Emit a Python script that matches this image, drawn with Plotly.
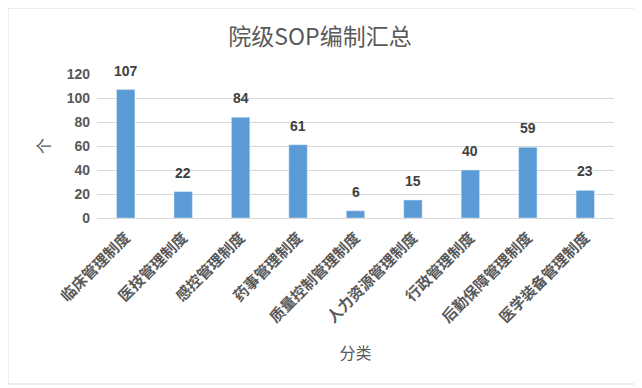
import plotly.graph_objects as go

categories = ["临床管理制度", "医技管理制度", "感控管理制度", "药事管理制度", "质量控制管理制度",
              "人力资源管理制度", "行政管理制度", "后勤保障管理制度", "医学装备管理制度"]
values = [107, 22, 84, 61, 6, 15, 40, 59, 23]
y_ticks = [0, 20, 40, 60, 80, 100, 120]

font_cjk = "Noto Sans CJK SC, Microsoft YaHei, sans-serif"
font_num = "Liberation Sans, Arial, sans-serif"
grey = "#595959"

# page has an 8px body margin; compensate
W, H = 634, 380
L, R, T, B = 89, 28, 66, 170
pw, ph = W - L - R, H - T - B

fig = go.Figure(go.Bar(
    x=categories, y=values,
    marker_color="#5B9BD5",
    cliponaxis=False,
))

for c, v in zip(categories, values):
    fig.add_annotation(x=c, y=v, text=str(v), showarrow=False, yanchor="middle", yshift=19,
                       font=dict(family=font_num, size=14, color="#404040", weight="bold"))

fig.update_layout(
    width=W, height=H,
    margin=dict(l=L, r=R, t=T, b=B),
    paper_bgcolor="white", plot_bgcolor="white",
    bargap=0.68,
    showlegend=False,
    title=dict(text="院级SOP编制汇总", x=312 / W,
               xanchor="center", y=1 - 29 / H, yanchor="middle",
               font=dict(family=font_cjk, size=23, color=grey)),
    xaxis=dict(
        tickangle=-45, automargin=False,
        tickfont=dict(family=font_cjk, size=15, color=grey, weight="bold"),
        ticklabelstandoff=4,
        showline=True, linecolor="#D9D9D9", ticks="",
        title=dict(text="分类", font=dict(family=font_cjk, size=16, color=grey), standoff=22),
    ),
    yaxis=dict(
        range=[0, 120], tickvals=y_ticks, automargin=False,
        showgrid=True, gridcolor="#D9D9D9", zeroline=False,
        tickfont=dict(family=font_num, size=14, color=grey, weight="bold"),
        ticklabelstandoff=6,
        title=dict(text="个", font=dict(family=font_cjk, size=16, color=grey), standoff=12),
    ),
    shapes=[dict(type="rect", xref="paper", yref="paper",
                 x0=(0 - L) / pw, x1=(W - 6 - L) / pw,
                 y0=-(B - 4) / ph, y1=1 + (T) / ph,
                 line=dict(color="#D9D9D9", width=1))],
)

fig.write_html("out.html")
